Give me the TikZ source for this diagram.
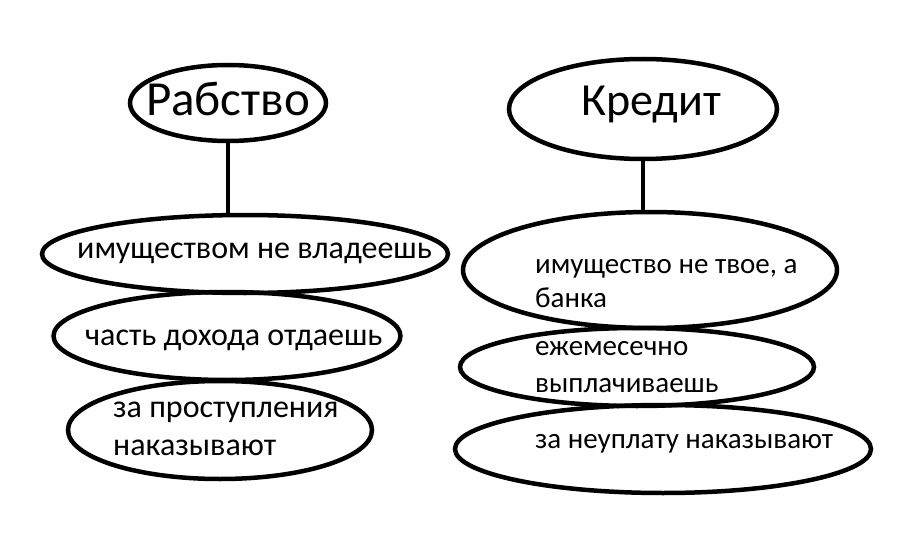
\documentclass[tikz,border=0pt]{standalone}
\usepackage{fontspec}
\setmainfont{Carlito}
\usetikzlibrary{shapes.geometric}
\begin{document}
\begin{tikzpicture}[x=1pt,y=-1pt,
  oval/.style={draw=black,line width=4.5pt,ellipse,inner sep=0pt},
  link/.style={draw=black,line width=4.5pt},
  title/.style={anchor=base,inner sep=0pt},
  txt/.style={font=\fontsize{32}{38}\selectfont,anchor=base west,inner sep=0pt},
  txtr/.style={font=\fontsize{29}{34}\selectfont,anchor=base west,inner sep=0pt}]
\useasboundingbox[fill=white] (0,0) rectangle (914,535);
% left column
\node[oval,minimum width=196pt,minimum height=76pt] (rab) at (228,103) {};
\node[title,font=\fontsize{49}{54}\selectfont] (rabt) at (228,115) {Рабство};
\node[oval,minimum width=406pt,minimum height=78pt] (l1) at (245,254) {};
\node[txt] (l1t) at (77,258) {имуществом не владеешь};
\node[oval,minimum width=347pt,minimum height=88pt] (l2) at (227,336) {};
\node[txt] (l2t) at (85,345) {часть дохода отдаешь};
\node[oval,minimum width=304pt,minimum height=98pt] (l3) at (220,430) {};
\node[txt] (l3a) at (113,417) {за проступления};
\node[txt] (l3b) at (113,455) {наказывают};
\draw[link] (rab.south) -- (rab.south |- l1.north);
% right column
\node[oval,minimum width=268pt,minimum height=100pt] (kr) at (643,109) {};
\node[title,font=\fontsize{46}{50}\selectfont] (krt) at (651,115) {Кредит};
\node[oval,minimum width=374pt,minimum height=116pt] (r1) at (650,270) {};
\node[txtr] (r1a) at (535,273) {имущество не твое, а};
\node[txtr] (r1b) at (535,307) {банка};
\node[oval,minimum width=354pt,minimum height=78pt] (r2) at (637,367) {};
\node[txtr] (r2a) at (535,355) {ежемесечно};
\node[txtr] (r2b) at (535,392) {выплачиваешь};
\node[oval,minimum width=416pt,minimum height=88pt] (r3) at (663,449) {};
\node[txtr] (r3t) at (535,448) {за неуплату наказывают};
\draw[link] (kr.south) -- (kr.south |- r1.north);
\end{tikzpicture}
\end{document}
